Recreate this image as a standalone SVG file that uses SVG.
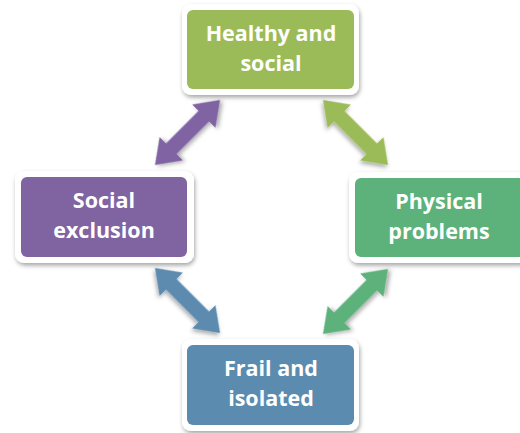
<svg xmlns="http://www.w3.org/2000/svg" width="520" height="433" viewBox="0 0 520 433">
  <defs>
    <filter id="shadow" x="-20%" y="-20%" width="140%" height="150%">
      <feDropShadow dx="1" dy="2.5" stdDeviation="2" flood-color="#000" flood-opacity="0.35"/>
    </filter>
    <!-- double-headed arrow, drawn along +x, length 92 -->
    <polygon id="dbl" points="0,0 23,-16.5 23,-7.5 69,-7.5 69,-16.5 92,0 69,16.5 69,7.5 23,7.5 23,16.5"/>
  </defs>
  <style>
    .frame { fill: #ffffff; filter: url(#shadow); }
    .label { font-family: "Open Sans", "Liberation Sans", sans-serif; font-weight: bold; font-size: 21.5px; fill: #ffffff; text-anchor: middle; }
    .arrow { filter: url(#shadow); }
  </style>
  <rect width="520" height="433" fill="#ffffff"/>

  <g id="connectors">
    <use href="#dbl" class="arrow" fill="#8064A2" transform="translate(155,165) rotate(-45)"/>
    <use href="#dbl" class="arrow" fill="#9BBB59" transform="translate(323,100) rotate(45)"/>
    <use href="#dbl" class="arrow" fill="#5B8BAF" transform="translate(155,268) rotate(45)"/>
    <use href="#dbl" class="arrow" fill="#5CB27A" transform="translate(323,334) rotate(-45)"/>
  </g>

  <g id="healthy-social">
    <rect class="frame" x="182" y="4" width="177" height="91" rx="9"/>
    <rect x="187" y="10" width="167" height="79" rx="6" fill="#9BBB59"/>
    <text class="label" x="271" y="41">Healthy and</text>
    <text class="label" x="271" y="71">social</text>
  </g>

  <g id="social-exclusion">
    <rect class="frame" x="15" y="171" width="179" height="92" rx="9"/>
    <rect x="21" y="177" width="166" height="80" rx="6" fill="#8064A2"/>
    <text class="label" x="104" y="208">Social</text>
    <text class="label" x="104" y="238">exclusion</text>
  </g>

  <g id="physical-problems">
    <rect class="frame" x="349" y="172" width="180" height="91" rx="9"/>
    <rect x="355" y="178" width="170" height="79" rx="6" fill="#5CB27A"/>
    <text class="label" x="439" y="209">Physical</text>
    <text class="label" x="439" y="239">problems</text>
  </g>

  <g id="frail-isolated">
    <rect class="frame" x="182" y="339" width="177" height="92" rx="9"/>
    <rect x="187" y="345" width="167" height="80" rx="6" fill="#5B8BAF"/>
    <text class="label" x="271" y="376">Frail and</text>
    <text class="label" x="271" y="406">isolated</text>
  </g>
</svg>
